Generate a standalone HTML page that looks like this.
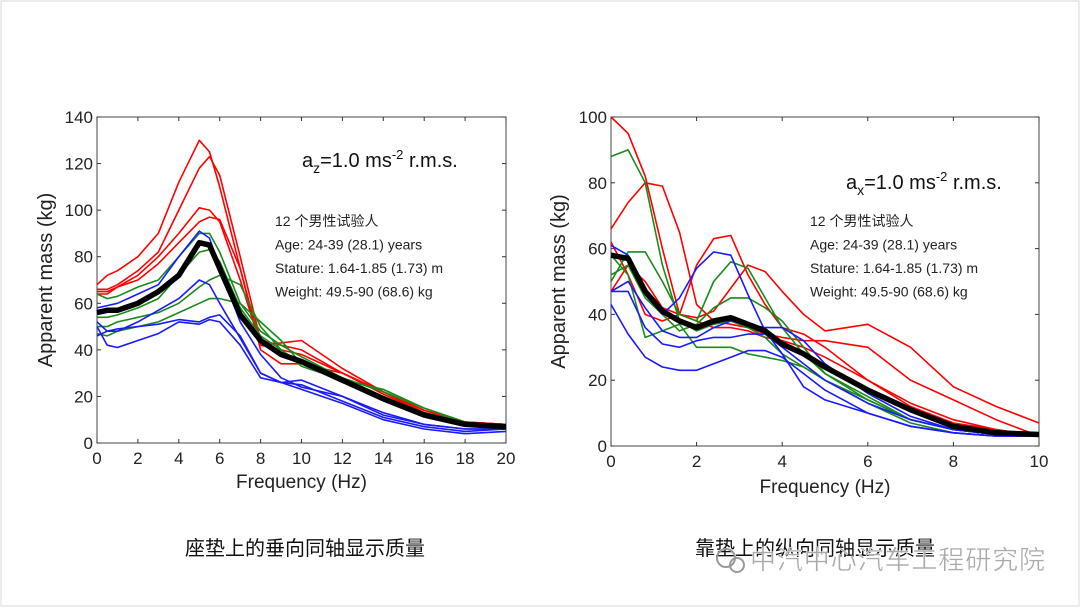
<!DOCTYPE html>
<html><head><meta charset="utf-8">
<style>
html,body{margin:0;padding:0;background:#fff;}
body{width:1080px;height:607px;overflow:hidden;position:relative;font-family:"Liberation Sans","Noto Sans CJK SC",sans-serif;}
svg text{font-family:"Liberation Sans","Noto Sans CJK SC",sans-serif;}
</style></head>
<body>
<svg id="c" width="1080" height="607" viewBox="0 0 1080 607" xmlns="http://www.w3.org/2000/svg">
<rect x="0" y="0" width="1080" height="607" fill="#fff"/>
<rect x="1" y="1" width="1078" height="605" fill="none" stroke="#d8d8d8" stroke-width="1"/>
<g id="left"></g>
<g id="right"></g>
<text x="305" y="555" font-size="20" text-anchor="middle" fill="#111">座垫上的垂向同轴显示质量</text>
<text x="815" y="555" font-size="20" text-anchor="middle" fill="#111">靠垫上的纵向同轴显示质量</text>
<g>
<circle cx="726" cy="558" r="9" fill="none" stroke="#999" stroke-width="2"/>
<circle cx="737" cy="565" r="7" fill="none" stroke="#999" stroke-width="2"/>
<text x="750" y="569" font-size="26" fill="#aaa" stroke="#fff" stroke-width="0.4" textLength="295">中汽中心汽车工程研究院</text>
</g>
</svg>
<script>
// ---- Left chart data (vertical, 0-20 Hz) ----
const leftFreq = [0,0.5,1,2,3,4,5,5.5,6,7,8,9,10,12,14,16,18,20];
const leftMean = [56,57,57,60,65,72,86,85,75,55,44,38,35,27,19,12,8,7];
const leftRed = [
 [68,72,74,80,90,112,130,125,110,75,42,40,38,30,22,14,9,8],
 [66,66,68,74,82,100,118,123,115,80,44,42,40,30,22,14,9,8],
 [64,64,67,72,80,90,101,100,95,70,42,43,44,32,22,13,9,8],
 [65,65,67,70,77,86,95,97,96,75,40,34,34,30,21,13,9,8]];
const leftGreen = [
 [64,62,63,67,70,80,90,90,82,60,48,42,37,28,20,12,8,7],
 [54,54,55,58,62,72,82,83,78,58,46,40,33,27,23,15,9,7],
 [50,50,52,54,56,60,67,70,72,68,50,40,34,26,20,13,9,7],
 [47,46,48,50,52,56,60,62,62,60,52,44,34,28,22,15,9,7]];
const leftBlue = [
 [58,59,60,64,68,80,91,88,75,52,38,28,24,20,13,8,6,6],
 [52,48,48,52,57,62,70,68,60,45,30,26,27,20,12,8,6,6],
 [46,48,49,50,51,53,52,54,55,46,30,26,25,18,11,7,5,6],
 [50,42,41,44,47,52,51,53,52,42,28,26,23,17,10,6,4,5]];
const leftXTicks = [0,2,4,6,8,10,12,14,16,18,20];
const leftYTicks = [0,20,40,60,80,100,120,140];

// ---- Right chart data (fore-aft, 0-10 Hz) ----
const rightFreq = [0,0.4,0.8,1.2,1.6,2,2.4,2.8,3.2,3.6,4,4.5,5,6,7,8,9,10];
const rightMean = [58,57,47,41,38,36,38,39,37,35,31,28,24,17,11,6,4,3.5];
const rightRed = [
 [100,95,82,60,40,38,36,36,35,33,32,30,27,20,12,7,5,3],
 [66,74,80,79,65,43,38,37,36,34,33,32,32,30,20,14,8,3],
 [62,52,40,38,40,55,63,64,52,43,36,34,30,20,13,8,5,3],
 [47,55,50,42,40,39,41,48,55,53,47,40,35,37,30,18,12,7]];
const rightGreen = [
 [88,90,80,55,38,35,37,38,36,33,28,24,20,14,8,5,3.5,3],
 [50,59,59,50,40,38,50,56,54,45,36,28,22,15,8,5,3.5,3],
 [58,52,33,35,37,30,30,30,28,27,26,24,20,13,7,4,3,3],
 [52,55,45,40,35,37,42,45,45,42,38,30,22,14,8,5,3.5,3]];
const rightBlue = [
 [61,58,46,40,45,54,59,58,46,35,28,18,14,10,6,4,3,3],
 [47,50,42,35,33,33,36,38,37,36,36,32,25,16,9,5,3.5,3],
 [47,47,36,31,30,32,33,33,34,34,30,25,20,13,8,5,3.5,3],
 [43,34,27,24,23,23,25,27,29,29,27,22,17,10,6,4,3,3]];
const rightXTicks = [0,2,4,6,8,10];
const rightYTicks = [0,20,40,60,80,100];

const NS = "http://www.w3.org/2000/svg";
function mk(parent, tag, attrs){const e=document.createElementNS(NS,tag);for(const k in attrs)e.setAttribute(k,attrs[k]);parent.appendChild(e);return e;}

function drawChart(g, cfg){
  const {x0,x1,y0,y1,xmax,ymax,freq,mean,groups,xt,yt,sub,annX,annY,infoX,infoY,xTitleY} = cfg;
  const sx = v => x0 + (x1-x0)*v/xmax;
  const sy = v => y0 - (y0-y1)*v/ymax;
  const box = mk(g,'rect',{x:x0,y:y1,width:x1-x0,height:y0-y1,fill:'#fff',stroke:'#444','stroke-width':1});
  
  
  xt.forEach(t=>{
    const X=sx(t);
    mk(g,'line',{x1:X,y1:y0,x2:X,y2:y0-4,stroke:'#333'});
    mk(g,'line',{x1:X,y1:y1,x2:X,y2:y1+4,stroke:'#333'});
    const tx=mk(g,'text',{x:X,y:y0+21,'font-size':17,'text-anchor':'middle',fill:'#222'});
    tx.textContent=t;
    
    
  });
  yt.forEach(t=>{
    const Y=sy(t);
    mk(g,'line',{x1:x0,y1:Y,x2:x0+4,y2:Y,stroke:'#333'});
    mk(g,'line',{x1:x1,y1:Y,x2:x1-4,y2:Y,stroke:'#333'});
    const tx=mk(g,'text',{x:x0-4,y:Y+6,'font-size':17,'text-anchor':'end',fill:'#222'});
    tx.textContent=t;
    
    
  });
  const path = arr => arr.map((v,i)=>(i?'L':'M')+sx(freq[i]).toFixed(1)+','+sy(v).toFixed(1)).join(' ');
  groups.forEach(gr=>{
    gr.data.forEach(arr=>{
      const p=mk(g,'path',{d:path(arr),fill:'none',stroke:gr.color,'stroke-width':1.6,'stroke-linejoin':'round'});
      
      
    });
  });
  const m=mk(g,'path',{d:path(mean),fill:'none',stroke:'#000','stroke-width':5.5,'stroke-linejoin':'round'});
  
  
  const xtit=mk(g,'text',{x:(x0+x1)/2,y:xTitleY,'font-size':19,'text-anchor':'middle',fill:'#222'});
  xtit.textContent='Frequency (Hz)';
  
  
  const cy=(y0+y1)/2;
  const ytit=mk(g,'text',{x:cfg.yTitleX,y:cy,'font-size':20,'text-anchor':'middle',fill:'#222',transform:'rotate(-90 '+cfg.yTitleX+' '+cy+')'});
  ytit.textContent='Apparent mass (kg)';
  
  
  const ann=mk(g,'text',{x:annX,y:annY,'font-size':20,fill:'#111'});
  
  
  ann.innerHTML='a<tspan dy="6" font-size="14">'+sub+'</tspan><tspan dy="-6">=1.0 ms</tspan><tspan dy="-8" font-size="13">-2</tspan><tspan dy="8"> r.m.s.</tspan>';
  const info=['12 个男性试验人','Age: 24-39 (28.1) years','Stature: 1.64-1.85 (1.73) m','Weight: 49.5-90 (68.6) kg'];
  info.forEach((s,i)=>{
    const t=mk(g,'text',{x:infoX,y:infoY+i*23.5,'font-size':14,fill:'#222'});
    t.textContent=s;
    
    
  });
}

drawChart(document.getElementById('left'),{x0:97,x1:506,y0:443,y1:117,xmax:20,ymax:140,freq:leftFreq,mean:leftMean,
  groups:[{name:'red',color:'#ff0000',data:leftRed},{name:'green',color:'#1a8a1a',data:leftGreen},{name:'blue',color:'#1a1aff',data:leftBlue}],
  xt:leftXTicks,yt:leftYTicks,sub:'z',annX:302,annY:167,infoX:275,infoY:226,xTitleY:488,yTitleX:52});
drawChart(document.getElementById('right'),{x0:611,x1:1039,y0:446,y1:117,xmax:10,ymax:100,freq:rightFreq,mean:rightMean,
  groups:[{name:'red',color:'#ff0000',data:rightRed},{name:'green',color:'#1a8a1a',data:rightGreen},{name:'blue',color:'#1a1aff',data:rightBlue}],
  xt:rightXTicks,yt:rightYTicks,sub:'x',annX:846,annY:189,infoX:810,infoY:226,xTitleY:493,yTitleX:565});
</script>
</body></html>
